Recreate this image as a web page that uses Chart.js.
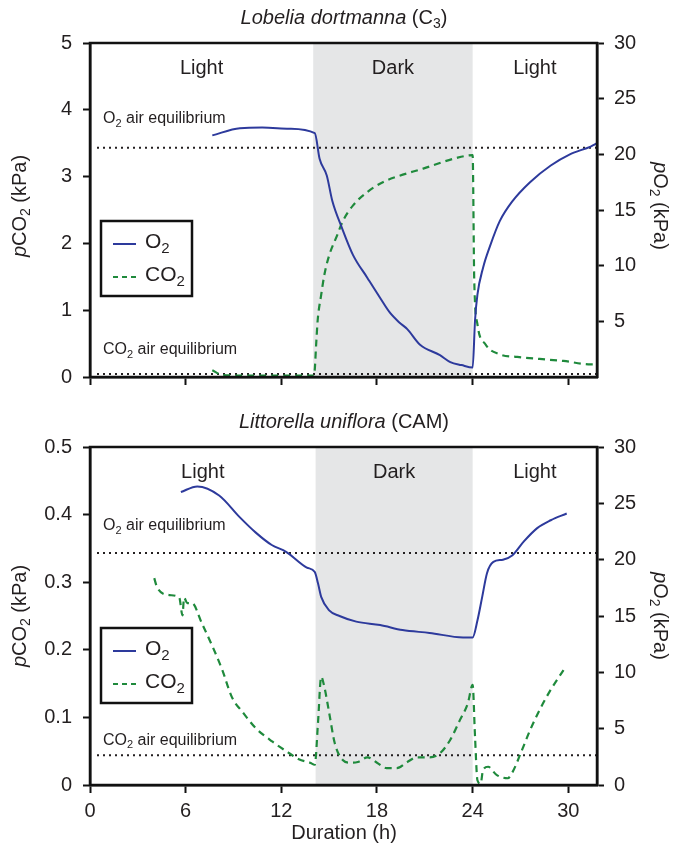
<!DOCTYPE html>
<html>
<head>
<meta charset="utf-8">
<script src="https://cdn.jsdelivr.net/npm/chart.js@4.4.1/dist/chart.umd.min.js"></script>
<style>
  body { margin: 0; background: #fff; }
  #wrap { position: relative; width: 678px; height: 851px; }
  canvas { position: absolute; left: 0; }
  #lobelia { top: 0; }
  #littorella { top: 400px; }
</style>
</head>
<body>
<div id="wrap">
  <canvas id="lobelia" width="678" height="400"></canvas>
  <canvas id="littorella" width="678" height="451"></canvas>
</div>
<script>
// tick labels
const hourTicks = [0, 6, 12, 18, 24, 30];
const o2Ticks = [0, 5, 10, 15, 20, 25, 30];
const lobeliaCO2Ticks = [0, 1, 2, 3, 4, 5];
const littorellaCO2Ticks = [0, 0.1, 0.2, 0.3, 0.4, 0.5];
const phaseNames = ["Light", "Dark", "Light"];

// light / dark periods (h) and air equilibrium levels (kPa)
const lobeliaDark = [14.0, 24.0];
const littorellaDark = [14.15, 24.0];
const o2AirEq = 20.6;
const co2AirEq = 0.044;

// Lobelia dortmanna (C3)
const lobeliaO2Hours = [7.67, 9.4, 10.8, 12.5, 14.1, 14.4, 14.85, 15.2, 15.8, 16.5, 17.4, 18.2, 18.8, 19.4, 19.9, 20.7, 21.95, 22.6, 23.3, 24.0, 24.15, 24.3, 24.65, 25.1, 25.7, 26.5, 27.6, 28.9, 30.1, 31.4, 31.8];
const lobeliaO2 = [21.7, 22.35, 22.4, 22.3, 21.9, 19.6, 18.1, 15.8, 13.4, 10.95, 8.9, 7.1, 5.8, 4.9, 4.3, 2.9, 1.96, 1.34, 1.07, 0.85, 5.1, 7.4, 9.8, 11.8, 14.0, 15.8, 17.5, 19.0, 20.0, 20.7, 21.0];
const lobeliaCO2Hours = [7.67, 8.3, 10, 12, 14.05, 14.2, 14.28, 14.5, 14.7, 15.0, 15.5, 15.85, 16.5, 17.4, 18.4, 19.25, 20.9, 23.0, 24.0, 24.1, 24.3, 24.8, 25.7, 26.8, 28.2, 29.7, 31.4, 31.8];
const lobeliaCO2 = [0.10, 0.03, 0.02, 0.02, 0.02, 0.55, 0.85, 1.23, 1.53, 1.82, 2.12, 2.33, 2.57, 2.77, 2.92, 3.0, 3.12, 3.28, 3.32, 1.45, 0.79, 0.49, 0.34, 0.30, 0.27, 0.24, 0.19, 0.19];

// Littorella uniflora (CAM)
const littorellaO2Hours = [5.7, 6.73, 8.1, 9.37, 10.4, 11.4, 12.3, 13.6, 14.1, 14.3, 14.5, 15.0, 15.65, 16.7, 18.2, 19.6, 21.3, 23.4, 24.0, 24.3, 24.6, 24.9, 25.3, 25.9, 26.5, 27.2, 28.05, 28.9, 29.9];
const littorellaO2 = [26.0, 26.5, 25.7, 23.8, 22.4, 21.3, 20.7, 19.3, 18.9, 17.9, 16.7, 15.5, 15.0, 14.5, 14.2, 13.75, 13.5, 13.1, 13.1, 14.6, 16.7, 18.8, 19.8, 20.0, 20.4, 21.6, 22.8, 23.5, 24.1];
const littorellaCO2Hours = [4.03, 4.2, 4.97, 5.6, 5.8, 5.9, 6.1, 6.4, 7.0, 7.7, 8.3, 8.9, 9.6, 10.4, 11.45, 12.5, 13.1, 13.8, 14.1, 14.3, 14.5, 14.7, 15.0, 15.35, 15.85, 16.3, 16.8, 17.4, 18.0, 18.6, 19.25, 19.9, 20.5, 21.3, 21.95, 22.6, 23.2, 23.7, 24.0, 24.15, 24.3, 24.5, 24.65, 24.97, 25.5, 26.2, 26.5, 27.1, 27.6, 28.2, 28.9, 29.7];
const littorellaCO2 = [0.306, 0.293, 0.281, 0.277, 0.251, 0.277, 0.269, 0.269, 0.240, 0.204, 0.170, 0.130, 0.107, 0.084, 0.064, 0.047, 0.038, 0.033, 0.030, 0.092, 0.160, 0.145, 0.107, 0.062, 0.037, 0.033, 0.034, 0.041, 0.033, 0.025, 0.025, 0.034, 0.041, 0.041, 0.047, 0.067, 0.096, 0.121, 0.148, 0.071, 0.007, 0.002, 0.022, 0.027, 0.015, 0.010, 0.019, 0.052, 0.081, 0.111, 0.141, 0.170];

const BLUE = "#2d3a9c";
const GREEN = "#1f8a3c";
const INK = "#231f20";
const FAMILY = '"Liberation Sans", Arial, sans-serif';

function font(size, style) {
  return (style || "") + " " + size + "px " + FAMILY;
}

function pairs(xs, ys) {
  return xs.map((x, i) => ({ x: x, y: ys[i] }));
}

// draw a line of text made of runs with different fonts (italic, subscripts)
function drawRuns(ctx, runs, x, y, align) {
  let w = 0;
  runs.forEach(r => { ctx.font = r.font; w += ctx.measureText(r.text).width; });
  let cx = align === "center" ? x - w / 2 : x;
  ctx.textAlign = "left";
  ctx.textBaseline = "middle";
  runs.forEach(r => {
    ctx.font = r.font;
    ctx.fillText(r.text, cx, y + (r.dy || 0));
    cx += ctx.measureText(r.text).width;
  });
}

function sub(text, size) {
  return { text: text, font: font(size), dy: size * 0.45 };
}

const panelDecor = {
  id: "panelDecor",
  beforeDatasetsDraw(chart, args, opts) {
    const { ctx, chartArea: a, scales } = chart;
    const x0 = scales.x.getPixelForValue(opts.dark[0]);
    const x1 = scales.x.getPixelForValue(opts.dark[1]);
    ctx.save();
    ctx.fillStyle = "#e5e6e7";
    ctx.fillRect(x0, a.top, x1 - x0, a.bottom - a.top);

    ctx.strokeStyle = INK;
    ctx.lineWidth = 2;
    ctx.setLineDash([2, 4]);
    const lines = [scales.yO2.getPixelForValue(o2AirEq), scales.yCO2.getPixelForValue(co2AirEq)];
    lines.forEach(py => {
      ctx.beginPath();
      ctx.moveTo(a.left + 7, py);
      ctx.lineTo(a.right, py);
      ctx.stroke();
    });
    ctx.setLineDash([]);

    // phase labels
    ctx.fillStyle = INK;
    const bounds = [scales.x.min, opts.dark[0], opts.dark[1], scales.x.max];
    phaseNames.forEach((name, i) => {
      const px = scales.x.getPixelForValue((bounds[i] + bounds[i + 1]) / 2);
      drawRuns(ctx, [{ text: name, font: font(20) }], px, a.top + 25, "center");
    });

    // equilibrium labels
    drawRuns(ctx, [{ text: "O", font: font(16) }, sub("2", 11), { text: " air equilibrium", font: font(16) }],
      a.left + 13, lines[0] - opts.o2LabelGap, "left");
    drawRuns(ctx, [{ text: "CO", font: font(16) }, sub("2", 11), { text: " air equilibrium", font: font(16) }],
      a.left + 13, lines[1] - opts.co2LabelGap, "left");
    ctx.restore();
  },
  afterDraw(chart, args, opts) {
    const { ctx, chartArea: a } = chart;
    ctx.save();
    ctx.fillStyle = INK;

    // frame
    ctx.strokeStyle = "#111";
    ctx.lineWidth = 2.5;
    ctx.strokeRect(a.left, a.top, a.right - a.left, a.bottom - a.top);

    // panel title
    drawRuns(ctx, opts.title, 344, a.top - 25, "center");

    // axis titles
    const cy = (a.top + a.bottom) / 2 + opts.titleShift;
    ctx.save();
    ctx.translate(20, cy);
    ctx.rotate(-Math.PI / 2);
    drawRuns(ctx, [{ text: "p", font: font(20, "italic") }, { text: "CO", font: font(20) }, sub("2", 14), { text: " (kPa)", font: font(20) }], 0, 0, "center");
    ctx.restore();
    ctx.save();
    ctx.translate(660, cy);
    ctx.rotate(Math.PI / 2);
    drawRuns(ctx, [{ text: "p", font: font(20, "italic") }, { text: "O", font: font(20) }, sub("2", 14), { text: " (kPa)", font: font(20) }], 0, 0, "center");
    ctx.restore();

    // legend box
    const lx = a.left + 11, ly = opts.legendTop;
    ctx.fillStyle = "#fff";
    ctx.fillRect(lx, ly, 91, 75);
    ctx.lineWidth = 2.5;
    ctx.strokeStyle = "#111";
    ctx.strokeRect(lx, ly, 91, 75);
    ctx.lineWidth = 2;
    ctx.strokeStyle = BLUE;
    ctx.beginPath(); ctx.moveTo(lx + 12, ly + 23); ctx.lineTo(lx + 35, ly + 23); ctx.stroke();
    ctx.strokeStyle = GREEN;
    ctx.setLineDash([5, 4]);
    ctx.beginPath(); ctx.moveTo(lx + 12, ly + 56); ctx.lineTo(lx + 35, ly + 56); ctx.stroke();
    ctx.setLineDash([]);
    ctx.fillStyle = INK;
    drawRuns(ctx, [{ text: "O", font: font(21) }, sub("2", 15)], lx + 44, ly + 21, "left");
    drawRuns(ctx, [{ text: "CO", font: font(21) }, sub("2", 15)], lx + 44, ly + 54, "left");
    ctx.restore();
  }
};

function makePanel(canvasId, cfg) {
  const ctx = document.getElementById(canvasId).getContext("2d");
  const tickFont = { family: FAMILY, size: 20 };
  return new Chart(ctx, {
    type: "line",
    data: {
      datasets: [{
        label: "O2",
        data: pairs(cfg.o2Hours, cfg.o2),
        yAxisID: "yO2",
        borderColor: BLUE,
        borderWidth: 2,
        pointRadius: 0,
        cubicInterpolationMode: "monotone"
      }, {
        label: "CO2",
        data: pairs(cfg.co2Hours, cfg.co2),
        yAxisID: "yCO2",
        borderColor: GREEN,
        borderWidth: 2.2,
        borderDash: [7, 5],
        pointRadius: 0,
        cubicInterpolationMode: "monotone"
      }]
    },
    options: {
      responsive: false,
      animation: false,
      layout: { padding: { top: cfg.padTop, left: 0, right: 0, bottom: 0 } },
      plugins: {
        legend: { display: false },
        tooltip: { enabled: false },
        panelDecor: cfg.decor
      },
      scales: {
        x: {
          type: "linear",
          min: 0,
          max: 31.8,
          afterBuildTicks: s => { s.ticks = hourTicks.map(v => ({ value: v })); },
          afterFit: s => { s.height = cfg.xHeight; },
          ticks: { display: cfg.showHours, font: tickFont, color: INK, padding: 6, maxRotation: 0 },
          grid: { drawOnChartArea: false, tickLength: 8, tickColor: "#111", tickWidth: 2 },
          border: { color: "#111", width: 2.5 }
        },
        yCO2: {
          position: "left",
          min: 0,
          max: cfg.co2Ticks[cfg.co2Ticks.length - 1],
          afterBuildTicks: s => { s.ticks = cfg.co2Ticks.map(v => ({ value: v })); },
          afterFit: s => { s.width = 90; },
          ticks: { font: tickFont, color: INK, padding: 11, callback: v => String(v) },
          grid: { drawOnChartArea: false, tickLength: 7, tickColor: "#111", tickWidth: 2 },
          border: { color: "#111", width: 2.5 }
        },
        yO2: {
          position: "right",
          min: 0,
          max: 30,
          afterBuildTicks: s => { s.ticks = o2Ticks.filter(v => v > 0 || cfg.showO2Zero).map(v => ({ value: v })); },
          afterFit: s => { s.width = 81; },
          ticks: { font: tickFont, color: INK, padding: 10, callback: v => String(v) },
          grid: { drawOnChartArea: false, tickLength: 7, tickColor: "#111", tickWidth: 2 },
          border: { color: "#111", width: 2.5 }
        }
      }
    },
    plugins: [panelDecor]
  });
}

window.onload = function () {
  makePanel("lobelia", {
    o2Hours: lobeliaO2Hours, o2: lobeliaO2,
    co2Hours: lobeliaCO2Hours, co2: lobeliaCO2,
    co2Ticks: lobeliaCO2Ticks,
    showO2Zero: false,
    showHours: false,
    padTop: 43,
    xHeight: 19,
    decor: {
      dark: lobeliaDark,
      o2LabelGap: 29,
      co2LabelGap: 24,
      legendTop: 221,
      titleShift: -4,
      title: [{ text: "Lobelia dortmanna", font: font(20, "italic") }, { text: " (C", font: font(20) }, sub("3", 14), { text: ")", font: font(20) }]
    }
  });
  makePanel("littorella", {
    o2Hours: littorellaO2Hours, o2: littorellaO2,
    co2Hours: littorellaCO2Hours, co2: littorellaCO2,
    co2Ticks: littorellaCO2Ticks,
    showO2Zero: true,
    showHours: true,
    padTop: 47,
    xHeight: 66,
    decor: {
      dark: littorellaDark,
      o2LabelGap: 27,
      co2LabelGap: 15,
      legendTop: 228,
      titleShift: 0,
      title: [{ text: "Littorella uniflora", font: font(20, "italic") }, { text: " (CAM)", font: font(20) }]
    }
  });

  // x-axis title under the lower panel
  const c = document.getElementById("littorella").getContext("2d");
  c.fillStyle = INK;
  drawRuns(c, [{ text: "Duration (h)", font: font(20) }], 344, 433, "center");
};
</script>
</body>
</html>
